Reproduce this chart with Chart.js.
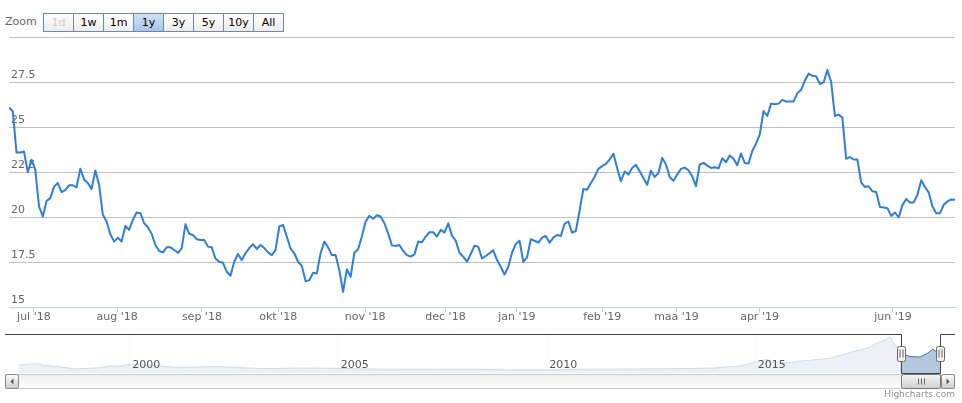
<!DOCTYPE html>
<html>
<head>
<meta charset="utf-8">
<script src="https://cdn.jsdelivr.net/npm/chart.js@4.4.1/dist/chart.umd.min.js"></script>
<style>
  html, body { margin: 0; padding: 0; background: #fff; }
  body { width: 962px; height: 403px; position: relative; overflow: hidden; font-family: "DejaVu Sans", Verdana, sans-serif; }
  #main { position: absolute; left: 0; top: 0; }
  #nav { position: absolute; left: 0; top: 330px; }
  #zoomLabel { position: absolute; left: 5px; top: 15px; font-size: 11px; color: #666; }
  #buttons { position: absolute; left: 43px; top: 13px; display: flex; }
  .btn { box-sizing: border-box; width: 31px; height: 19px; margin-left: -1px; border: 1px solid #6f88a8;
         background: linear-gradient(#fff, #ececec); font-size: 11px; line-height: 17px; text-align: center; color: #000; }
  .btn:first-child { margin-left: 0; }
  .btn.sel { background: linear-gradient(#d3e3f6, #a8c3e7); }
  .btn.off { color: #ccc; }
  #credits { position: absolute; right: 7px; top: 389px; font-size: 9px; color: #909090; }
</style>
</head>
<body>
<div id="zoomLabel">Zoom</div>
<div id="buttons"></div>
<canvas id="main" width="962" height="330"></canvas>
<canvas id="nav" width="962" height="73"></canvas>
<div id="credits">Highcharts.com</div>
<script>
// range selector
const rangeButtons = ['1d', '1w', '1m', '1y', '3y', '5y', '10y', 'All'];
const selectedButton = '1y';
const disabledButtons = ['1d'];

// main series, one value per trading day (jul '18 - jun '19)
const values = [
  26.1, 25.9, 23.6, 23.6, 23.65, 22.5, 23.2, 22.65, 20.6, 20.04,
  20.9, 21.06, 21.7, 21.9, 21.4, 21.5, 21.77, 21.77, 21.66, 22.7,
  22.1, 21.9, 21.57, 22.6, 21.8, 20.13, 19.76, 19.05, 18.64, 18.86,
  18.64, 19.51, 19.29, 19.85, 20.26, 20.22, 19.66, 19.44, 19.07, 18.45,
  18.12, 18.04, 18.32, 18.32, 18.17, 18.02, 18.26, 19.6, 19.07, 19.01,
  18.77, 18.73, 18.73, 18.36, 18.32, 17.7, 17.52, 17.46, 16.96, 16.74,
  17.52, 17.95, 17.61, 17.99, 18.28, 18.49, 18.23, 18.45, 18.28, 18.04,
  17.89, 18.17, 19.48, 19.57, 18.92, 18.26, 17.99, 17.52, 17.29, 16.44,
  16.49, 16.9, 16.87, 17.99, 18.64, 18.32, 17.89,
  17.89, 17.05, 15.84, 17.1, 16.68, 18.02, 18.21, 18.92, 19.76, 20.07,
  19.91, 20.11, 20.04, 19.66, 19.1, 18.43, 18.4, 18.45, 18.12, 17.89,
  17.8, 17.93, 18.64, 18.6, 18.92, 19.16, 19.16, 18.92, 19.29, 19.14,
  19.66, 18.97, 18.69, 18.02, 17.8, 17.52, 17.95, 18.41, 18.36, 17.7,
  17.84, 17.99, 18.15, 17.61, 17.24, 16.81, 17.24, 18.02, 18.51, 18.69,
  17.52, 17.76, 18.77, 18.69, 18.58, 18.86, 18.95, 18.58, 18.86, 19.01,
  18.95, 19.63, 19.76, 19.14, 19.23, 20.37, 21.57, 21.53, 21.9, 22.24,
  22.69, 22.84, 22.97, 23.21, 23.53, 22.74, 22.0, 22.54, 22.37, 22.74,
  22.91, 22.56, 22.18, 21.81, 22.59, 22.24, 22.46, 23.3,
  22.93, 22.24, 22.03, 22.37, 22.69, 22.76, 22.61, 22.28, 21.72, 22.93,
  23.02, 22.87, 22.74, 22.78, 22.72, 23.28, 23.06, 23.43, 23.25, 22.89,
  23.54, 23.02, 22.99, 23.68, 24.09, 24.61, 25.91, 25.63, 26.32, 26.29,
  26.32, 26.53, 26.44, 26.44, 26.44, 26.9, 27.09, 27.59, 27.99, 27.87,
  27.84, 27.41, 27.5, 28.19, 27.54, 25.63, 25.71, 25.54, 23.25, 23.34,
  23.21, 23.21, 21.94, 21.68, 21.72, 21.44, 21.4, 20.56, 20.54, 20.5,
  20.07, 20.26, 19.98, 20.67, 21.01, 20.82, 20.82, 21.25, 22.05, 21.68,
  21.38, 20.6, 20.22, 20.22, 20.69, 20.88, 20.99, 20.97
];

// month ticks (position in trading days) and their labels
const monthTickPos = [6.63, 28.83, 51.38, 71.7, 94.89, 116.27, 135.29, 158.02, 177.81, 199.93, 235.48];
const monthLabels = ["jul '18", "aug '18", "sep '18", "okt '18", "nov '18", "dec '18",
                     "jan '19", "feb '19", "maa '19", "apr '19", "jun '19"];
const yTicks = [15, 17.5, 20, 22.5, 25, 27.5, 30];

// navigator: full history
const navYears = [1997.34, 1997.62, 1997.82, 1997.93, 1998.29, 1998.75, 1999.30, 1999.54, 1999.78, 2000.02,
  2000.26, 2000.74, 2001.22, 2001.70, 2002.10, 2002.65, 2003.30, 2004.09, 2004.89, 2005.70,
  2006.49, 2007.28, 2008.41, 2009.20, 2010.02, 2010.81, 2012.01, 2013.21, 2014.00, 2014.65,
  2015.05, 2015.29, 2015.44, 2015.77, 2016.08, 2016.40, 2016.80, 2017.21, 2017.45, 2017.69,
  2017.93, 2018.12, 2018.24, 2018.36, 2018.50, 2018.58, 2018.72, 2018.96, 2019.15, 2019.27,
  2019.37, 2019.44];
const navValues = [9.0, 10.2, 10.5, 8.7, 7.1, 4.5, 6.0, 7.9, 7.9, 9.8,
  9.4, 7.9, 6.0, 6.8, 7.1, 6.0, 4.9, 5.6, 5.3, 4.5,
  4.2, 4.2, 4.2, 3.4, 3.4, 4.2, 4.5, 4.9, 5.6, 7.9,
  12.8, 15.5, 12.1, 11.6, 13.5, 14.7, 16.6, 22.2, 25.2, 27.9,
  33.5, 37.2, 41.0, 31.6, 26.0, 21.0, 18.5, 18.0, 22.5, 27.0,
  23.0, 21.0];
const navYearTicks = [2000, 2005, 2010, 2015];
const navRange = [1997.02, 2019.80];
const navSelection = [2018.50, 2019.44];

Chart.defaults.font.family = '"DejaVu Sans", Verdana, sans-serif';
Chart.defaults.font.size = 11;
Chart.defaults.color = '#666';

// buttons
const btnBox = document.getElementById('buttons');
rangeButtons.forEach(b => {
  const d = document.createElement('div');
  d.className = 'btn' + (b === selectedButton ? ' sel' : '') + (disabledButtons.includes(b) ? ' off' : '');
  d.textContent = b;
  btnBox.appendChild(d);
});

new Chart(document.getElementById('main'), {
  type: 'line',
  data: {
    datasets: [{
      data: values.map((v, i) => ({ x: i, y: v })),
      borderColor: '#2f7ed8',
      borderWidth: 2,
      borderJoinStyle: 'round',
      pointRadius: 0,
      tension: 0,
      fill: false
    }]
  },
  options: {
    responsive: false,
    animation: false,
    devicePixelRatio: 1,
    events: [],
    layout: { padding: { left: 5, right: 7, top: 37.5, bottom: 0 } },
    plugins: { legend: { display: false }, tooltip: { enabled: false } },
    scales: {
      x: {
        type: 'linear',
        min: 0,
        max: values.length - 1,
        afterBuildTicks: s => { s.ticks = monthTickPos.map(v => ({ value: v })); },
        afterFit: s => { s.height = 23; },
        grid: { drawOnChartArea: false, drawTicks: true, tickLength: 5, color: '#C0D0E0' },
        border: { color: '#C0D0E0' },
        ticks: { autoSkip: false, maxRotation: 0, padding: -1.5, callback: (v, i) => monthLabels[i] }
      },
      y: {
        min: 15,
        max: 30,
        afterBuildTicks: s => { s.ticks = yTicks.map(v => ({ value: v })); },
        grid: { color: '#C0C0C0', drawTicks: false },
        border: { display: false },
        ticks: { mirror: true, padding: 2, labelOffset: -7, callback: v => (v === 30 ? '' : String(v)) }
      }
    }
  }
});

// navigator mask, outline, handles and scrollbar
const navigatorPlugin = {
  id: 'navigator',
  afterDatasetsDraw(chart) {
    const { ctx, chartArea: a, scales: { x } } = chart;
    const x0 = x.getPixelForValue(navSelection[0]);
    const x1 = x.getPixelForValue(navSelection[1]);
    ctx.save();
    ctx.fillStyle = 'rgba(255,255,255,0.75)';
    ctx.fillRect(a.left, a.top, x0 - a.left, a.bottom - a.top);
    ctx.fillRect(x1, a.top, a.right - x1, a.bottom - a.top);
    ctx.restore();
  },
  afterDraw(chart) {
    const { ctx, chartArea: a, scales: { x } } = chart;
    const x0 = Math.round(x.getPixelForValue(navSelection[0])) + 0.5;
    const x1 = Math.round(x.getPixelForValue(navSelection[1])) + 0.5;
    const top = a.top + 0.5, bot = a.bottom + 0.5;
    ctx.save();
    // outline
    ctx.strokeStyle = '#444';
    ctx.lineWidth = 1;
    ctx.beginPath();
    ctx.moveTo(a.left, top);
    ctx.lineTo(x0, top);
    ctx.lineTo(x0, bot);
    ctx.lineTo(x1, bot);
    ctx.lineTo(x1, top);
    ctx.lineTo(a.right, top);
    ctx.stroke();

    // scrollbar
    const sTop = a.bottom + 1.5, sH = 14, sBot = sTop + sH;
    let g = ctx.createLinearGradient(0, sTop, 0, sBot);
    g.addColorStop(0, '#eeeeee');
    g.addColorStop(1, '#ffffff');
    ctx.fillStyle = g;
    ctx.fillRect(a.left, sTop, a.right - a.left, sH);
    ctx.strokeStyle = '#cccccc';
    ctx.strokeRect(a.left + 0.5, sTop, a.right - a.left - 1, sH);

    const drawBtn = (bx, bw, dir) => {
      const gg = ctx.createLinearGradient(0, sTop, 0, sBot);
      gg.addColorStop(0, '#ffffff');
      gg.addColorStop(1, '#cccccc');
      ctx.fillStyle = gg;
      ctx.strokeStyle = '#888';
      ctx.beginPath();
      ctx.roundRect(bx, sTop, bw, sH, 2);
      ctx.fill();
      ctx.stroke();
      const cx = bx + bw / 2, cy = sTop + sH / 2;
      ctx.fillStyle = '#555';
      ctx.beginPath();
      ctx.moveTo(cx - 1.5 * dir, cy);
      ctx.lineTo(cx + 1.5 * dir, cy - 3);
      ctx.lineTo(cx + 1.5 * dir, cy + 3);
      ctx.closePath();
      ctx.fill();
    };
    drawBtn(a.left + 0.5, 13, 1);
    drawBtn(a.right - 13.5, 13, -1);

    // thumb
    g = ctx.createLinearGradient(0, sTop, 0, sBot);
    g.addColorStop(0, '#f4f4f4');
    g.addColorStop(1, '#cfcfcf');
    ctx.fillStyle = g;
    ctx.strokeStyle = '#777';
    ctx.beginPath();
    ctx.roundRect(x0, sTop, x1 - x0, sH, 2);
    ctx.fill();
    ctx.stroke();
    const mx = Math.round((x0 + x1) / 2) + 0.5, my = sTop + sH / 2;
    ctx.strokeStyle = '#666';
    ctx.beginPath();
    [-3, 0, 3].forEach(d => { ctx.moveTo(mx + d, my - 3); ctx.lineTo(mx + d, my + 3); });
    ctx.stroke();

    // handles
    const hy = (a.top + a.bottom) / 2;
    [x0, x1].forEach(hx => {
      ctx.fillStyle = '#f2f2f2';
      ctx.strokeStyle = '#666';
      ctx.beginPath();
      ctx.roundRect(hx - 4, Math.round(hy - 7.5) + 0.5, 8, 15, 2);
      ctx.fill();
      ctx.stroke();
      ctx.beginPath();
      ctx.moveTo(hx - 1.5, hy - 4); ctx.lineTo(hx - 1.5, hy + 4);
      ctx.moveTo(hx + 1.5, hy - 4); ctx.lineTo(hx + 1.5, hy + 4);
      ctx.stroke();
    });
    ctx.restore();
  }
};

new Chart(document.getElementById('nav'), {
  type: 'line',
  data: {
    datasets: [{
      data: navYears.map((yr, i) => ({ x: yr, y: navValues[i] })),
      borderColor: '#4572A7',
      borderWidth: 1,
      backgroundColor: 'rgba(69,114,167,0.4)',
      fill: 'start',
      pointRadius: 0,
      tension: 0
    }]
  },
  options: {
    responsive: false,
    animation: false,
    devicePixelRatio: 1,
    events: [],
    layout: { padding: { left: 5, right: 7, top: 4, bottom: 30 } },
    plugins: { legend: { display: false }, tooltip: { enabled: false } },
    scales: {
      x: {
        type: 'linear',
        position: { y: 0 },
        min: navRange[0],
        max: navRange[1],
        afterBuildTicks: s => { s.ticks = navYearTicks.map(v => ({ value: v })); },
        grid: { color: '#e6e6e6', drawTicks: false },
        border: { display: false },
        ticks: { align: 'start', labelOffset: 3, padding: -14, z: 1, color: '#555', maxRotation: 0, autoSkip: false,
                 callback: v => String(v) }
      },
      y: { display: false, min: 0, max: 44 }
    }
  },
  plugins: [navigatorPlugin]
});
</script>
</body>
</html>
